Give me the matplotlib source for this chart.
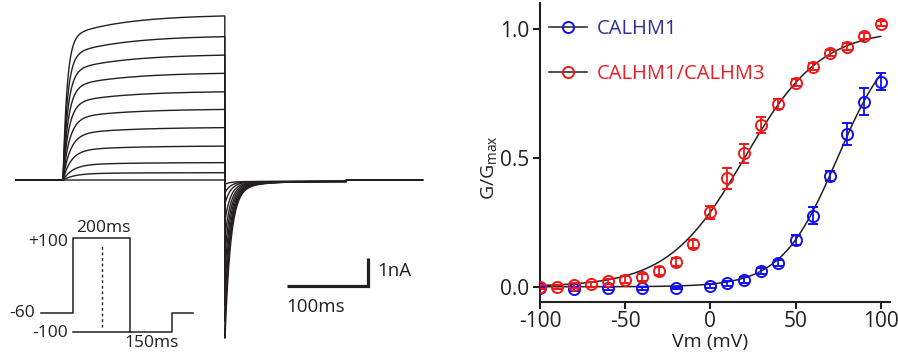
import numpy as np
import matplotlib
matplotlib.use("Agg")
import matplotlib.pyplot as plt
from matplotlib.lines import Line2D

plt.rcParams['font.family'] = ['Open Sans', 'DejaVu Sans']
plt.rcParams['axes.unicode_minus'] = False

# ---------------- data: conductance-voltage ----------------
red_x = [-100, -90, -80, -70, -60, -50, -40, -30, -20, -10, 0, 10, 20, 30, 40, 50, 60, 70, 80, 90, 100]
red_y = [0.0, 0.0, 0.006, 0.009, 0.022, 0.028, 0.036, 0.061, 0.095, 0.167, 0.29, 0.421, 0.518,
         0.628, 0.709, 0.793, 0.855, 0.907, 0.933, 0.974, 1.021]
red_err = [0.008, 0.008, 0.01, 0.01, 0.01, 0.012, 0.012, 0.015, 0.015, 0.015, 0.025, 0.042, 0.037,
           0.03, 0.02, 0.015, 0.015, 0.012, 0.012, 0.012, 0.01]
blue_x = [-100, -80, -60, -40, -20, 0, 10, 20, 30, 40, 50, 60, 70, 80, 90, 100]
blue_y = [-0.004, -0.01, -0.006, -0.006, -0.005, 0.003, 0.013, 0.026, 0.061, 0.093, 0.181, 0.276,
          0.43, 0.593, 0.719, 0.797]
blue_err = [0.005, 0.008, 0.005, 0.005, 0.005, 0.008, 0.01, 0.01, 0.012, 0.012, 0.02, 0.034,
            0.02, 0.042, 0.052, 0.034]
# Boltzmann fit parameters (V1/2, slope k)
red_fit = (20.0, 22.4)
blue_fit = (74.6, 16.4)
labels = ['CALHM1', 'CALHM1/CALHM3']

# ---------------- data: current traces ----------------
trace_ss = [5.86, 5.12, 4.46, 3.81, 3.15, 2.52, 1.87, 1.21, 0.62, 0.26, 0.0]   # nA at end of step
trace_tau_fast = [5, 5.5, 6, 6.5, 7, 8, 9, 10, 12, 14, 15]                     # ms
tail_peak = [-5.6, -5.0, -4.4, -3.8, -3.2, -2.6, -2.0, -1.4, -0.8, -0.4, -0.1]  # nA
step_ms = 200
tail_ms = 150
# ---------------- data: voltage protocol ----------------
prot_t = [-115, 0, 0, 200, 200, 0, 200, 350, 350, 424]
prot_v = [-60, -60, 100, 100, -100, -100, -100, -100, -60, -60]

INK = '#231f20'
BLUE = '#1010f0'
RED = '#f01818'
BLUE_TXT = '#2e3192'
RED_TXT = '#ed1c24'

fig = plt.figure(figsize=(8.98, 3.52), dpi=100)

# ---------------- left: traces ----------------
ax0 = fig.add_axes([0, 0, 440 / 898, 1])
ax0.set_xlim(-63 / 0.81, (440 - 63) / 0.81)
ax0.set_ylim(-(352 - 180) / 28, 180 / 28)
ax0.axis('off')

t = np.arange(-58, 444, 0.25)
for ss, tf, tp in zip(trace_ss, trace_tau_fast, tail_peak):
    amp = ss / 0.992
    tc = np.clip(t, 0, None)
    act = amp * (1 - 0.86 * np.exp(-tc / tf) - 0.14 * np.exp(-tc / 70))
    ta = np.clip(t - step_ms, 0, None)
    tail = tp * (0.93 * np.exp(-ta / 7.0) + 0.07 * np.exp(-ta / 30.0)) - 0.05
    y = np.where(t < 0, 0.0, np.where(t < step_ms, act, np.where(t < step_ms + tail_ms, tail, 0.0)))
    ax0.plot(t, y, color=INK, lw=1.0)

# scale bar
sb_t0, sb_i0 = 277, -3.8
ax0.plot([sb_t0, sb_t0 + 100, sb_t0 + 100], [sb_i0, sb_i0, sb_i0 + 1], color=INK, lw=2.3,
         solid_joinstyle='miter', solid_capstyle='butt')
ax0.text(sb_t0 + 100 + 11, sb_i0 + 0.55, '1nA', fontsize=13.5, color=INK, ha='left', va='center')
ax0.text(sb_t0 - 1, sb_i0 - 0.75, '100ms', fontsize=13.5, color=INK, ha='left', va='center')

# ---------------- inset: protocol ----------------
axi = fig.add_axes([0, 0, 220 / 898, 152 / 352])
axi.set_xlim(-259, 518)
axi.set_ylim(-143.2, 180.2)
axi.axis('off')
axi.plot(prot_t[:5], prot_v[:5], color=INK, lw=1.1)
axi.plot(prot_t[5:], prot_v[5:], color=INK, lw=1.1)
axi.plot([100, 100], [-89, 84], color=INK, lw=1.0, ls=(0, (2, 2)))
fs_p = 12.5
axi.text(-18, 90, '+100', fontsize=fs_p, ha='right', va='center', color=INK)
axi.text(-135, -60, '-60', fontsize=fs_p, ha='right', va='center', color=INK)
axi.text(-18, -103, '-100', fontsize=fs_p, ha='right', va='center', color=INK)
axi.text(105, 121, '200ms', fontsize=fs_p, ha='center', va='center', color=INK)
axi.text(278, -124, '150ms', fontsize=fs_p, ha='center', va='center', color=INK)

# ---------------- right: G/Gmax ----------------
ax = fig.add_axes([540 / 898, (352 - 301.7) / 352, 350 / 898, 298.4 / 352])
xx = np.linspace(-100, 100, 400)
for (vh, k) in (blue_fit, red_fit):
    ax.plot(xx, 1 / (1 + np.exp((vh - xx) / k)), color=INK, lw=1.1, zorder=2)
ms, mew = 8, 1.4
ax.errorbar(blue_x, blue_y, yerr=blue_err, fmt='o', mfc='none', mec=BLUE, ms=ms, mew=mew,
            ecolor=BLUE, elinewidth=1.3, capsize=3.5, capthick=1.3, zorder=3)
ax.errorbar(red_x, red_y, yerr=red_err, fmt='o', mfc='none', mec=RED, ms=ms, mew=mew,
            ecolor=RED, elinewidth=1.3, capsize=3.5, capthick=1.3, zorder=4)
ax.set_xlim(-100, -100 + 350 / 1.7035)
ax.set_ylim(-0.058, 1.101)
ax.spines['top'].set_visible(False)
ax.spines['right'].set_visible(False)
for s in ('left', 'bottom'):
    ax.spines[s].set_linewidth(1.5)
    ax.spines[s].set_color(INK)
ax.set_xticks([-100, -50, 0, 50, 100])
ax.set_yticks([0, 0.5, 1.0])
ax.set_yticklabels(['0.0', '0.5', '1.0'])
ax.tick_params(direction='out', length=5, width=1.5, labelsize=15, colors=INK, pad=3)
ax.tick_params(axis='x', pad=2)
ax.set_xlabel('Vm (mV)', fontsize=14, color=INK, va='top')
ax.xaxis.set_label_coords((710 - 540) / 350, (301.7 - 333) / 298.4)
ax.set_ylabel('G/G$_{\\mathregular{max}}$', fontsize=14, color=INK)
ax.yaxis.set_label_coords((500 - 540) / 350, (301.7 - 168) / 298.4)

handles = [Line2D([0], [0], color=INK, lw=1.1, marker='o', mfc='none', mec=c, ms=ms, mew=mew)
           for c in (BLUE, RED)]
leg = fig.legend(handles, labels, loc='upper left', bbox_to_anchor=(549 / 898, 1 - 19.5 / 352),
                 bbox_transform=fig.transFigure, frameon=False, fontsize=14.5, handlelength=1.9,
                 handletextpad=0.45, labelspacing=1.2, borderpad=0, borderaxespad=0)
for txt, c in zip(leg.get_texts(), (BLUE_TXT, RED_TXT)):
    txt.set_color(c)

fig.savefig('out.png', dpi=100)
